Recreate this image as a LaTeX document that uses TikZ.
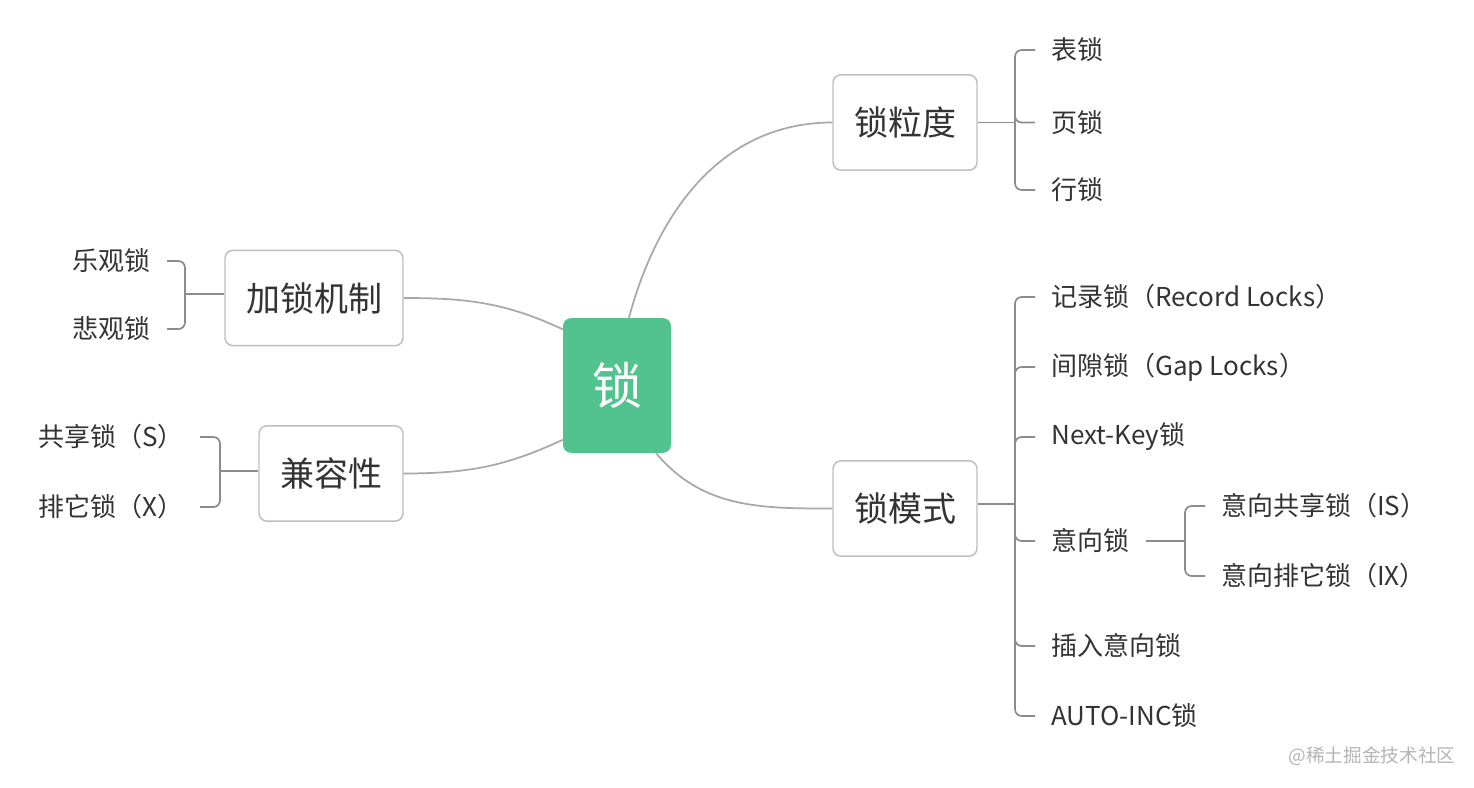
\documentclass[tikz,border=0pt]{standalone}
\usepackage{fontspec}
\setmainfont{Noto Sans CJK SC}
\definecolor{lockgreen}{HTML}{52C28E}
\definecolor{boxgray}{HTML}{BEBEBE}
\definecolor{linegray}{HTML}{A8A8A8}
\definecolor{brgray}{HTML}{8C8C8C}
\definecolor{txt}{HTML}{333333}
\definecolor{markgray}{HTML}{B4B4B4}

\begin{document}
\begin{tikzpicture}[
		x=0.75pt, y=-0.75pt,
		every node/.style={text=txt},
		lock/.style={fill=lockgreen, rounded corners=6pt, text=white, minimum width=81pt, minimum height=101pt, font=\fontsize{37.5}{40}\selectfont},
		topic/.style={draw=boxgray, line width=1.1pt, rounded corners=6pt, minimum width=108pt, minimum height=71.5pt, font=\fontsize{25.5}{30}\selectfont},
		leaf/.style={inner xsep=12pt, inner ysep=0pt, font=\fontsize{19.5}{24}\selectfont},
		branch/.style={draw=linegray, line width=1.3pt},
		bracket/.style={draw=brgray, line width=1.3pt, rounded corners=5pt}
	]
  \useasboundingbox (0, 0) rectangle (1474, 788);
  \node (lock) [lock] at (617, 385.5) {锁};
  \node (gran) [topic] at (905, 122.5) {锁粒度};
  \node (mode) [topic] at (905, 508.5) {锁模式};
  \node (mech) [topic, minimum width=133.5pt] at (314, 298) {加锁机制};
  \node (compat) [topic] at (331, 473.5) {兼容性};
  \node (mark) [font=\fontsize{14}{16}\selectfont, text=markgray] at (1372, 756) {@稀土掘金技术社区};

  \coordinate (gran_j) at (1015, 122.5);
  \node (gran_1) [leaf, anchor=west] at (1035, 50) {表锁};
  \node (gran_2) [leaf, anchor=west] at (1035, 122.5) {页锁};
  \node (gran_3) [leaf, anchor=west] at (1035, 190) {行锁};

  \coordinate (mode_j) at (1015, 504);
  \node (mode_1) [leaf, anchor=west] at (1035, 297) {记录锁（Record Locks）};
  \node (mode_2) [leaf, anchor=west] at (1035, 367) {间隙锁（Gap Locks）};
  \node (mode_3) [leaf, anchor=west] at (1035, 437) {Next-Key锁};
  \node (mode_4) [leaf, anchor=west] at (1035, 541) {意向锁};
  \node (mode_5) [leaf, anchor=west] at (1035, 646) {插入意向锁};
  \node (mode_6) [leaf, anchor=west] at (1035, 716) {AUTO-INC锁};

  \coordinate (int_j) at (1185, 541);
  \node (int_1) [leaf, anchor=west] at (1205, 506) {意向共享锁（IS）};
  \node (int_2) [leaf, anchor=west] at (1205, 576) {意向排它锁（IX）};

  \coordinate (mech_j) at (185, 294);
  \node (mech_1) [leaf, anchor=east] at (167, 261) {乐观锁};
  \node (mech_2) [leaf, anchor=east] at (167, 329) {悲观锁};

  \coordinate (compat_j) at (220, 471);
  \node (compat_1) [leaf, anchor=east] at (200, 437) {共享锁（S）};
  \node (compat_2) [leaf, anchor=east] at (200, 507) {排它锁（X）};

  \draw [branch] (lock.80) to [out=75, in=180] (gran.west);
  \draw [branch] (lock.-60) to [out=-50, in=180] (mode.west);
  \draw [branch] (mech.east) to [out=0, in=155] (lock.134);
  \draw [branch] (compat.east) to [out=0, in=205] (lock.225);

  \draw [bracket] (gran.east) -- (gran_j);
  \foreach \i in {1,2,3} \draw [bracket] (gran_j) |- (gran_\i.west);
  \draw [bracket] (mode_j -| mode.east) -- (mode_j);
  \foreach \i in {1,...,6} \draw [bracket] (mode_j) |- (mode_\i.west);
  \draw [bracket] (mode_4.east) -- (int_j);
  \foreach \i in {1,2} \draw [bracket] (int_j) |- (int_\i.west);
  \draw [bracket] (mech_j -| mech.west) -- (mech_j);
  \foreach \i in {1,2} \draw [bracket] (mech_j) |- (mech_\i.east);
  \draw [bracket] (compat_j -| compat.west) -- (compat_j);
  \foreach \i in {1,2} \draw [bracket] (compat_j) |- (compat_\i.east);
\end{tikzpicture}
\end{document}
